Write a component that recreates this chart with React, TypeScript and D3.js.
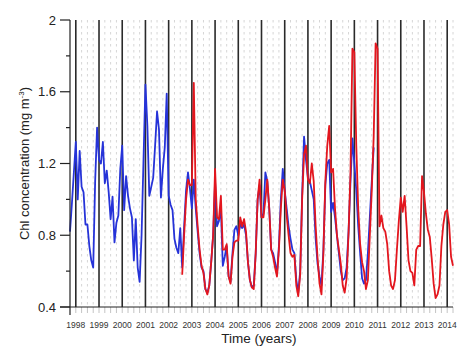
import React, { useEffect, useRef } from "react";
import * as d3 from "d3";

// monthly series, first point at 1997.75, one value per month
const seriesStart = 1997.75;
const blueValues = [
  0.82, 0.98, 1.15, 1.32, 1.0, 1.27, 1.07, 1.04, 0.86, 0.86,
  0.74, 0.66, 0.62, 1.1, 1.4, 1.22, 1.2, 1.32, 1.09, 1.16,
  1.04, 0.89, 1.015, 0.76, 0.87, 0.91, 1.17, 1.3, 0.94, 1.13,
  1.02, 0.95, 0.9, 0.66, 0.89, 0.62, 0.54, 0.8, 1.22, 1.64,
  1.41, 1.02, 1.07, 1.12, 1.3, 1.49, 1.39, 1.01, 1.17, 1.29,
  1.59, 1.02, 0.97, 0.94, 0.78, 0.73, 0.7, 0.84, 0.62, 0.85,
  1.05, 1.15, 1.06, 0.95, 1.11, 0.95, 0.82, 0.7, 0.62, 0.6,
  0.5, 0.48, 0.52, 0.65, 0.8, 1.1, 0.85, 0.88, 0.95, 0.63,
  0.68, 0.74, 0.57, 0.54, 0.7, 0.83, 0.85, 0.8, 0.86, 0.84,
  0.86, 0.8, 0.65, 0.55, 0.51, 0.52, 0.7, 1.0, 1.08, 0.9,
  0.92, 1.15, 1.1, 0.95, 0.72, 0.7, 0.65, 0.58, 0.74, 1.0,
  1.17, 1.05, 0.95, 0.85, 0.78, 0.72, 0.7, 0.55, 0.48, 0.6,
  1.02, 1.35, 1.22, 1.12, 1.1, 1.05, 1.0, 0.78, 0.64, 0.57,
  0.52, 0.72, 1.08, 1.2, 1.22, 0.93, 0.98, 0.9, 0.8, 0.7,
  0.6, 0.55, 0.56, 0.62, 0.82, 1.1, 1.34, 1.2, 1.05, 0.85,
  0.7, 0.56, 0.53, 0.55, 0.7, 0.9, 1.1, 1.29,
];

const redOffset = 58; // red starts 58 months after seriesStart
const redValues = [
  0.58, 0.8, 1.0, 1.11, 1.08, 1.08, 1.65, 1.0, 0.85, 0.72,
  0.63, 0.59, 0.5, 0.47, 0.52, 0.65, 0.8, 1.17, 0.9, 0.89,
  1.02, 0.72, 0.72, 0.75, 0.57, 0.53, 0.68, 0.76, 0.77, 0.77,
  0.9, 0.85, 0.89, 0.82, 0.65, 0.55, 0.51, 0.5, 0.7, 1.0,
  1.11, 0.9, 0.9, 1.0, 1.11, 0.95, 0.72, 0.68, 0.62, 0.57,
  0.72, 0.95, 1.11, 1.05, 0.91, 0.8, 0.7, 0.68, 0.69, 0.52,
  0.46, 0.58, 1.0, 1.25, 1.3, 1.11, 1.09, 1.2, 1.1, 0.85,
  0.67, 0.53, 0.47, 0.7, 1.1, 1.3, 1.41, 1.15, 1.17, 0.95,
  0.8, 0.72, 0.64, 0.52, 0.48, 0.56, 0.81, 1.15, 1.84, 1.82,
  1.3, 0.95, 0.75, 0.65, 0.6, 0.5, 0.55, 0.8, 1.05, 1.35,
  1.87, 1.84, 0.85, 0.91, 0.84, 0.82, 0.75, 0.6, 0.52, 0.5,
  0.55, 0.72, 0.88, 1.01, 0.93, 1.02, 0.85, 0.66, 0.6, 0.59,
  0.52, 0.72, 0.74, 0.74, 1.13, 1.04, 0.92, 0.83, 0.79, 0.67,
  0.53, 0.45, 0.47, 0.52, 0.74, 0.86, 0.93, 0.94, 0.86, 0.68,
  0.63,
];

const years = d3.range(1998, 2015);
const yMajorTicks = [0.4, 0.8, 1.2, 1.6, 2];
const yMinorTicks = [0.6, 1.0, 1.4, 1.8];

const App = () => {
  const ref = useRef<SVGSVGElement>(null);

  useEffect(() => {
    const svg = d3.select(ref.current);
    svg.selectAll("*").remove();

    const left = 70, right = 453, top = 20, bottom = 307;
    const font = "Liberation Sans, Arial, sans-serif";

    const x = d3.scaleLinear().domain([1997.75, 2014.25]).range([left, right]);
    const y = d3.scaleLinear().domain([0.4, 2]).range([bottom, top]);

    // quarter grid (dashed light gray)
    const quarters = d3.range(1998, 2014.26, 0.25).filter(q => q % 1 !== 0);
    svg.append("g").selectAll("line").data(quarters).join("line")
      .attr("x1", d => x(d)).attr("x2", d => x(d))
      .attr("y1", top).attr("y2", bottom)
      .attr("stroke", "#d6d6d6").attr("stroke-width", 1)
      .attr("stroke-dasharray", "2.5,3.5");

    // small ticks under x axis
    svg.append("g").selectAll("line").data(d3.range(1998, 2014.26, 0.25)).join("line")
      .attr("x1", d => x(d)).attr("x2", d => x(d))
      .attr("y1", bottom).attr("y2", bottom + 6)
      .attr("stroke", "#c4c4c4").attr("stroke-width", 1);

    // year lines
    svg.append("g").selectAll("line").data(years).join("line")
      .attr("x1", d => x(d)).attr("x2", d => x(d))
      .attr("y1", top).attr("y2", bottom)
      .attr("stroke", "#2a2a2a").attr("stroke-width", 1.6);

    const line = d3.line<number>()
      .x((d, i) => x(seriesStart + i / 12))
      .y(d => y(d));
    const redLine = d3.line<number>()
      .x((d, i) => x(seriesStart + (i + redOffset) / 12))
      .y(d => y(d));

    svg.append("path").datum(blueValues)
      .attr("d", line).attr("fill", "none")
      .attr("stroke", "#2633d8").attr("stroke-width", 1.8)
      .attr("stroke-linejoin", "round");

    svg.append("path").datum(redValues)
      .attr("d", redLine).attr("fill", "none")
      .attr("stroke", "#e3161e").attr("stroke-width", 1.8)
      .attr("stroke-linejoin", "round");

    // axes
    svg.append("line").attr("x1", left).attr("x2", left)
      .attr("y1", top).attr("y2", bottom + 8)
      .attr("stroke", "#222").attr("stroke-width", 1.2);
    svg.append("line").attr("x1", left - 10).attr("x2", right)
      .attr("y1", bottom).attr("y2", bottom)
      .attr("stroke", "#222").attr("stroke-width", 1.2);

    svg.append("g").selectAll("line").data(yMajorTicks).join("line")
      .attr("x1", left - 10).attr("x2", left)
      .attr("y1", d => y(d)).attr("y2", d => y(d))
      .attr("stroke", "#222").attr("stroke-width", 1.2);
    svg.append("g").selectAll("line").data(yMinorTicks).join("line")
      .attr("x1", left - 4).attr("x2", left)
      .attr("y1", d => y(d)).attr("y2", d => y(d))
      .attr("stroke", "#222").attr("stroke-width", 1.2);

    svg.append("g").selectAll("text").data(yMajorTicks).join("text")
      .attr("x", left - 14).attr("y", d => y(d) + 4.5)
      .attr("text-anchor", "end")
      .style("font-family", font)
      .style("font-size", "13px").attr("fill", "#222")
      .text(d => String(d));

    svg.append("g").selectAll("text").data(years).join("text")
      .attr("x", d => x(d)).attr("y", 328)
      .attr("text-anchor", "middle")
      .style("font-family", font)
      .style("font-size", "8.5px").attr("fill", "#333")
      .text(d => String(d));

    svg.append("text")
      .attr("x", 259).attr("y", 343)
      .attr("text-anchor", "middle")
      .style("font-family", font)
      .style("font-size", "13.5px").attr("fill", "#222")
      .text("Time (years)");

    const yl = svg.append("text")
      .attr("transform", `translate(29, ${(top + bottom) / 2}) rotate(-90)`)
      .attr("text-anchor", "middle")
      .style("font-family", font)
      .style("font-size", "13px").attr("fill", "#222");
    yl.append("tspan").text("Chl concentration (mg m");
    yl.append("tspan").attr("dy", -5).style("font-size", "8px").text("-3");
    yl.append("tspan").attr("dy", 5).text(")");
  }, []);

  return (
    <svg ref={ref} width={474} height={360}
      style={{ position: "absolute", left: 0, top: 0, background: "#fff" }} />
  );
};

export default App;
